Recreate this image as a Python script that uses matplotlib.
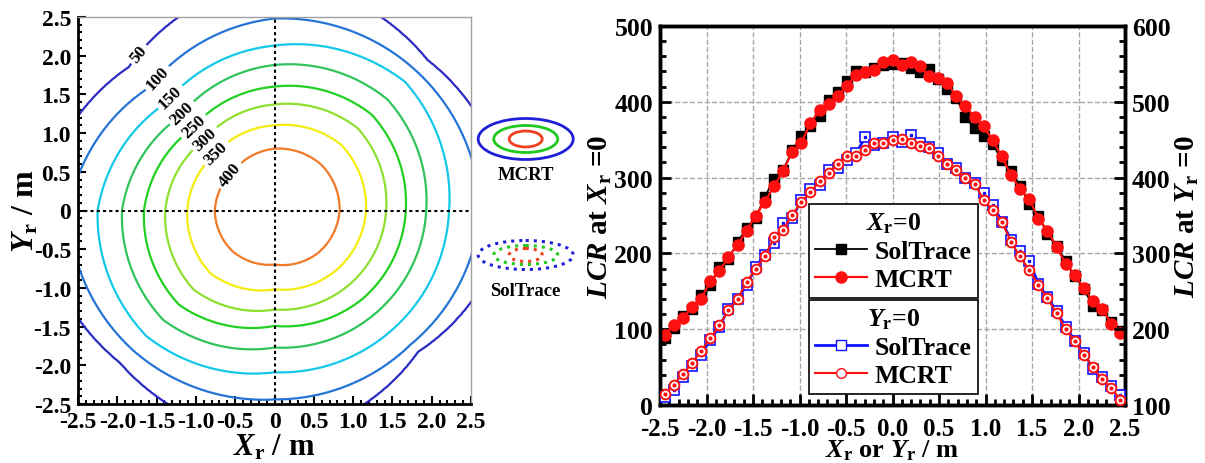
import numpy as np
import matplotlib
matplotlib.use("Agg")
import matplotlib.pyplot as plt
import matplotlib.ticker as ticker
from matplotlib.patches import Ellipse
from matplotlib.lines import Line2D

plt.rcParams['font.family'] = ['Liberation Serif', 'DejaVu Serif']
plt.rcParams['font.weight'] = 'bold'
plt.rcParams['axes.labelweight'] = 'bold'
plt.rcParams['mathtext.fontset'] = 'custom'
plt.rcParams['mathtext.rm'] = 'Liberation Serif:bold'
plt.rcParams['mathtext.it'] = 'Liberation Serif:italic:bold'
plt.rcParams['mathtext.bf'] = 'Liberation Serif:bold'
plt.rcParams['axes.unicode_minus'] = False

# ---- contour data: radius (m) of each LCR contour, read in 8 directions ----
peak_lcr = 455
levels = [400, 350, 300, 250, 200, 150, 100, 50]
angles = [0, 45, 90, 135, 180, 225, 270, 315]
r400 = [0.83, 0.84, 0.80, 0.73, 0.76, 0.75, 0.70, 0.78]
r350 = [1.165, 1.20, 1.10, 1.05, 1.11, 1.15, 1.02, 1.10]
r300 = [1.42, 1.50, 1.37, 1.28, 1.39, 1.45, 1.28, 1.35]
r250 = [1.67, 1.75, 1.60, 1.49, 1.66, 1.72, 1.49, 1.60]
r200 = [1.93, 2.03, 1.88, 1.71, 1.94, 2.00, 1.77, 1.85]
r150 = [2.22, 2.35, 2.13, 1.96, 2.25, 2.30, 2.09, 2.15]
r100 = [2.62, 2.55, 2.48, 2.25, 2.62, 2.55, 2.44, 2.45]
r50 = [3.00, 2.75, 3.00, 2.62, 3.00, 2.78, 2.95, 2.58]
level_colors = ['#f07a28', '#f4ec10', '#8ee030', '#22d022', '#30c45a', '#14c8e8', '#2474d6', '#2c2cc4']
label_pos = [(-0.57, 0.46), (-0.74, 0.74), (-0.89, 0.93), (-1.02, 1.08),
             (-1.17, 1.25), (-1.31, 1.45), (-1.48, 1.70), (-1.74, 2.03)]

# ---- line profile data ----
xr = np.linspace(-2.45, 2.45, 51)
mcrt_x0 = [93, 105, 115, 129, 140, 163, 177, 195, 211, 230, 250, 268, 289, 309, 334, 346, 372,
           389, 397, 408, 421, 436, 439, 442, 452, 455, 448, 452, 447, 434, 431, 425, 407, 394,
           380, 368, 349, 328, 303, 285, 272, 246, 230, 209, 186, 172, 154, 137, 127, 107, 95]
sol_x0 = [88, 102, 118, 127, 145, 158, 182, 193, 215, 233, 247, 275, 298, 310, 336, 355, 368,
          381, 403, 413, 427, 440, 439, 444, 449, 450, 451, 444, 439, 443, 430, 417, 405, 380,
          365, 355, 344, 323, 309, 289, 265, 250, 225, 210, 190, 170, 153, 130, 125, 110, 98]
mcrt_y0 = [114, 127, 141, 155, 171, 188, 205, 225, 240, 262, 280, 296, 321, 331, 351, 368, 381,
           395, 406, 418, 429, 429, 437, 446, 446, 449, 451, 446, 442, 439, 429, 418, 410, 399,
           392, 371, 357, 342, 315, 296, 278, 258, 241, 221, 200, 184, 166, 150, 134, 123, 107]
sol_y0 = [110, 120, 137, 152, 166, 186, 203, 227, 240, 258, 282, 298, 314, 340, 347, 370, 385,
          390, 410, 413, 423, 432, 453, 443, 445, 454, 447, 456, 445, 440, 432, 418, 413, 400,
          393, 380, 364, 342, 318, 303, 290, 260, 242, 224, 203, 185, 168, 148, 137, 125, 113]

fig = plt.figure(figsize=(12.05, 4.64), dpi=100)
W, H = 1205.0, 464.0

def px_axes(x0, y0, x1, y1):
    return fig.add_axes([x0 / W, (H - y1) / H, (x1 - x0) / W, (y1 - y0) / H])

# ================= left: contour map =================
ax = px_axes(78, 18, 471, 405)
g = np.linspace(-2.6, 2.6, 521)
X, Y = np.meshgrid(g, g)
R = np.hypot(X, Y)
T = np.degrees(np.arctan2(Y, X)) % 360
rings = [np.zeros_like(R)] + [np.interp(T, angles, r, period=360)
                              for r in [r400, r350, r300, r250, r200, r150, r100, r50]]
rings.append(rings[-1] + 1.5)
vals = [peak_lcr] + levels + [0]
Z = np.zeros_like(R)
for k in range(len(rings) - 1):
    a, b = rings[k], rings[k + 1]
    m = (R >= a) & (R < b)
    Z[m] = (vals[k] + (R - a) / (b - a) * (vals[k + 1] - vals[k]))[m]

cs = ax.contour(X, Y, Z, levels=levels[::-1], colors=level_colors[::-1], linewidths=1.6)
ax.clabel(cs, fmt='%d', fontsize=12.5, colors='k', inline=True, inline_spacing=3,
          manual=label_pos)
ax.axhline(0, color='k', ls=(0, (1.5, 1.5)), lw=1.5)
ax.axvline(0, color='k', ls=(0, (1.5, 1.5)), lw=1.5)
ax.set_xlim(-2.5, 2.5)
ax.set_ylim(-2.5, 2.5)
ticks = [-2.5, -2.0, -1.5, -1.0, -0.5, 0, 0.5, 1.0, 1.5, 2.0, 2.5]
ax.set_xticks(ticks)
ax.set_yticks(ticks)
fmt = ticker.FuncFormatter(lambda v, _: '0' if abs(v) < 1e-9 else f'{v:.1f}')
ax.xaxis.set_major_formatter(fmt)
ax.yaxis.set_major_formatter(fmt)
ax.xaxis.set_minor_locator(ticker.MultipleLocator(0.1))
ax.yaxis.set_minor_locator(ticker.MultipleLocator(0.1))
ax.tick_params(which='both', direction='in', top=False, right=False, width=1.5, labelsize=17)
ax.tick_params(axis='x', pad=5)
ax.tick_params(axis='y', pad=5)
ax.tick_params(which='major', length=6)
ax.tick_params(which='minor', length=3)
for s in ['left', 'bottom']:
    ax.spines[s].set_linewidth(2)
for s in ['top', 'right']:
    ax.spines[s].set_color('#a0a0a0')
    ax.spines[s].set_linewidth(1)
ax.set_xlabel(r'$X_{\rm r}$ / m', fontsize=22, labelpad=0)
ax.set_ylabel(r'$Y_{\rm r}$ / m', fontsize=23, labelpad=-5)

# ================= middle: icon legend =================
ic = px_axes(470, 90, 590, 320)
ic.set_xlim(470, 590)
ic.set_ylim(320, 90)
ic.axis('off')
for cy, ls, hts in [(140, '-', (41, 27, 16)), (256, ':', (29, 19, 13))]:
    for w, h, c in zip((95, 64, 33), hts, ('#1f1fd8', '#20c820', '#f04020')):
        ic.add_patch(Ellipse((525.7, cy), w, h, fill=False, ec=c,
                             lw=2 if ls == '-' else 2.2, ls=ls))
ic.text(525.7, 176, 'MCRT', ha='center', va='center', fontsize=13.5)
ic.text(525.7, 292, 'SolTrace', ha='center', va='center', fontsize=13.5)

# ================= right: LCR profiles =================
bx = px_axes(660, 27, 1125, 406)
bx2 = bx.twinx()
bx.grid(True, ls='--', color='#a8a8a8', lw=1)
bx.set_axisbelow(True)

bx.plot(xr, sol_x0, color='k', lw=1.3, marker='s', ms=7, zorder=3)
bx.plot(xr, mcrt_x0, color='#ff1010', lw=1.6, marker='o', ms=8, zorder=4)

bx2.plot(xr, sol_y0, color='#1010ff', lw=2, marker='s', ms=6.5, mfc='white', mec='#1010ff',
         mew=1.2, zorder=3)
bx2.plot(xr, sol_y0, ls='none', marker='s', ms=1.8, color='#1010ff', zorder=3)
bx2.plot(xr, mcrt_y0, color='#ff1010', lw=1.5, marker='o', ms=7, mfc='white', mec='#ff1010',
         mew=1.4, zorder=4)
bx2.plot(xr, mcrt_y0, ls='none', marker='o', ms=2, color='#ff1010', zorder=4)

bx.set_xlim(-2.5, 2.5)
bx.set_ylim(0, 500)
bx2.set_ylim(100, 600)
bx.set_xticks([-2.5, -2.0, -1.5, -1.0, -0.5, 0.0, 0.5, 1.0, 1.5, 2.0, 2.5])
bx.xaxis.set_major_formatter(ticker.FormatStrFormatter('%.1f'))
bx.xaxis.set_minor_locator(ticker.MultipleLocator(0.1))
bx.yaxis.set_major_locator(ticker.MultipleLocator(100))
bx.yaxis.set_minor_locator(ticker.MultipleLocator(20))
bx2.yaxis.set_major_locator(ticker.MultipleLocator(100))
bx2.yaxis.set_minor_locator(ticker.MultipleLocator(20))
for a in (bx, bx2):
    a.tick_params(which='both', direction='in', width=2, labelsize=18.5, pad=5)
    a.tick_params(which='major', length=8)
    a.tick_params(which='minor', length=4)
    for s in a.spines.values():
        s.set_linewidth(2.5)
bx.tick_params(top=False, right=False)
bx.tick_params(axis='x', pad=8.5, labelsize=18)

bx.set_xlabel(r'$X_{\rm r}$ or $Y_{\rm r}$ / m', fontsize=19, labelpad=-1.5)
bx.set_ylabel(r'$LCR$ at $X_{\rm r}$ =0', fontsize=21, labelpad=0)
bx2.set_ylabel(r'$LCR$ at $Y_{\rm r}$ =0', fontsize=21, labelpad=2)

h1 = [Line2D([], [], color='k', lw=1.3, marker='s', ms=7),
      Line2D([], [], color='#ff1010', lw=1.6, marker='o', ms=8)]
h2 = [Line2D([], [], color='#1010ff', lw=2, marker='s', ms=6.5, mfc='white', mec='#1010ff'),
      Line2D([], [], color='#ff1010', lw=1.5, marker='o', ms=7, mfc='white', mec='#ff1010')]
leg_kw = dict(loc='upper left', bbox_transform=fig.transFigure, borderaxespad=0,
              fancybox=False, framealpha=1, edgecolor='k', fontsize=18.5, title_fontsize=18.5,
              handlelength=2.0, handletextpad=0.3, labelspacing=0.2, borderpad=0.25,
              markerfirst=True)
leg1 = bx2.legend(h1, ['SolTrace', 'MCRT'], title=r'$X_{\rm r}$=0',
                  bbox_to_anchor=(809 / W, (H - 205) / H), **leg_kw)
leg1.get_frame().set_linewidth(1.2)
bx2.add_artist(leg1)
leg2 = bx2.legend(h2, ['SolTrace', 'MCRT'], title=r'$Y_{\rm r}$=0',
                  bbox_to_anchor=(809 / W, (H - 301) / H), **leg_kw)
leg2.get_frame().set_linewidth(1.2)

fig.savefig('out.png', dpi=100)
